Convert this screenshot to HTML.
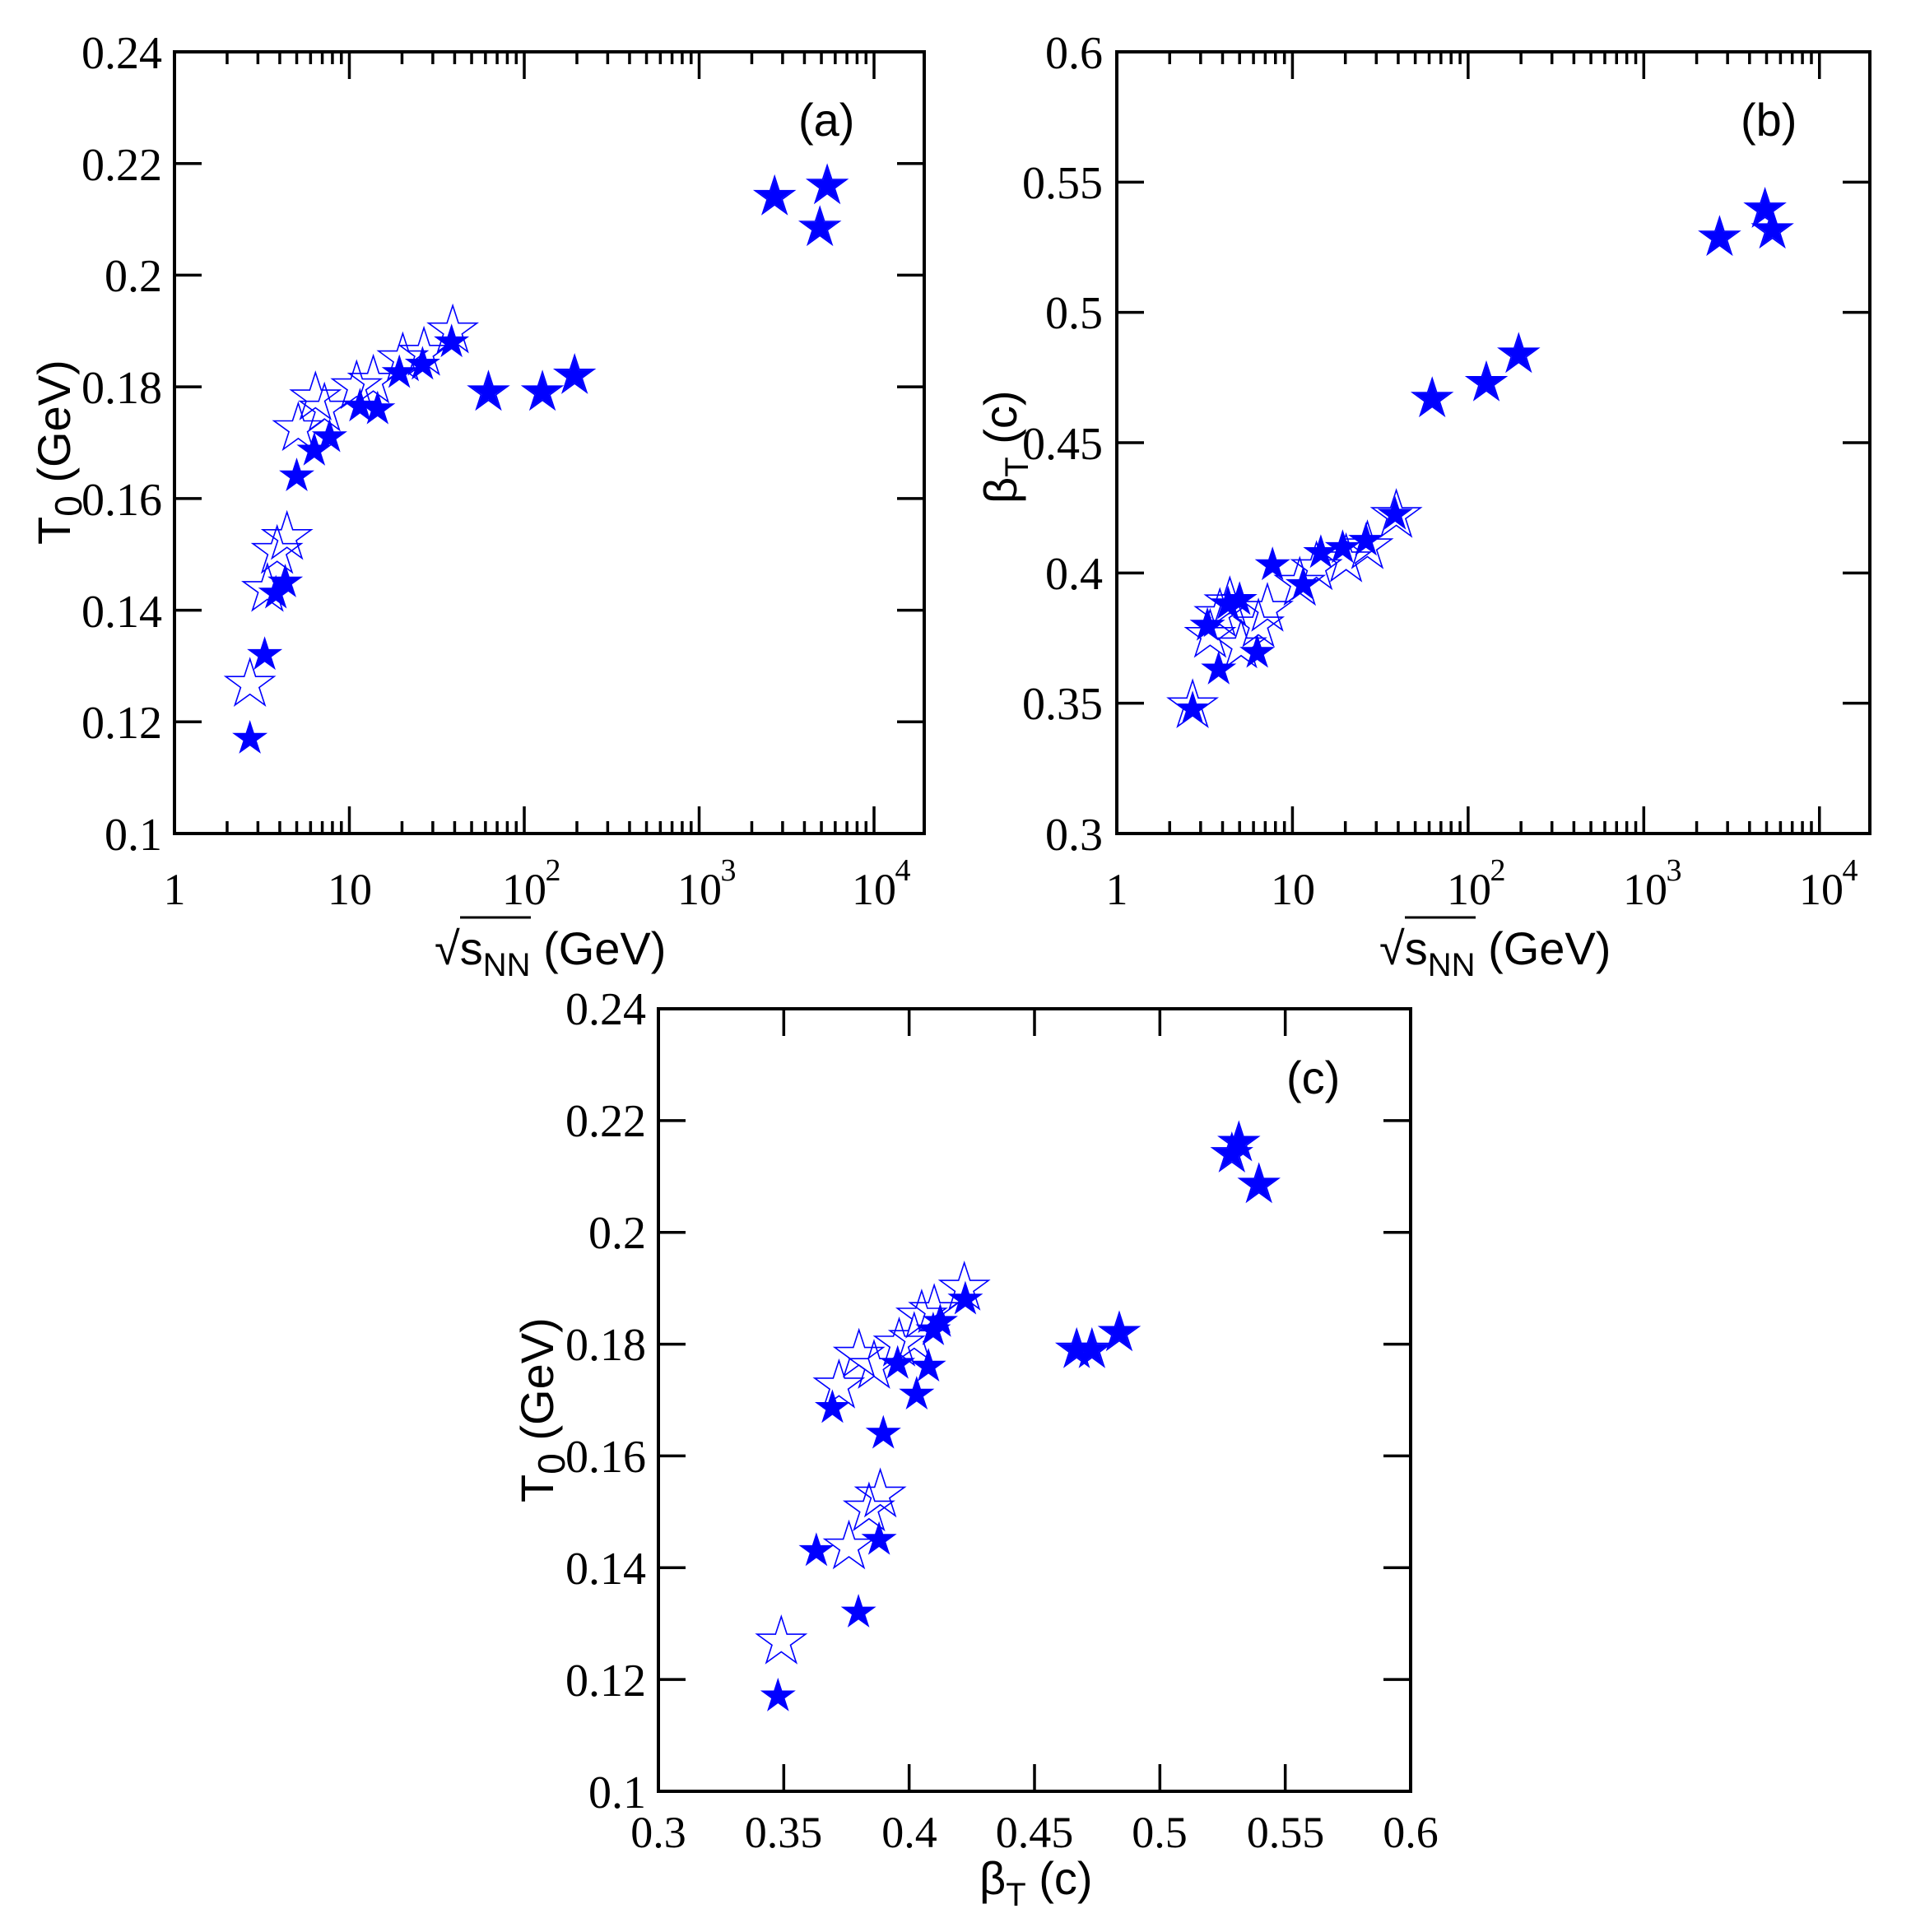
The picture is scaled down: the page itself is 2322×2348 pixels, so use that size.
<!DOCTYPE html>
<html><head><meta charset="utf-8"><style>
body{margin:0;background:#fff}
svg{display:block}
.tl{font-family:"Liberation Serif",serif;font-size:56px;fill:#000}
.tx{font-family:"Liberation Serif",serif;font-size:54px;fill:#000}
.at{font-family:"Liberation Sans",sans-serif;font-size:56px;fill:#000}
</style></head><body>
<svg id="s" xmlns="http://www.w3.org/2000/svg" width="2322" height="2348" viewBox="0 0 2322 2348">
<rect width="2322" height="2348" fill="#fff"/>
<g id="g"></g>
<g class="tl" text-anchor="end">
<text x="197" y="1033">0.1</text><text x="197" y="897">0.12</text><text x="197" y="762">0.14</text><text x="197" y="626">0.16</text><text x="197" y="490">0.18</text><text x="197" y="354">0.2</text><text x="197" y="219">0.22</text><text x="197" y="83">0.24</text>
<text x="1340" y="1033">0.3</text><text x="1340" y="874">0.35</text><text x="1340" y="716">0.4</text><text x="1340" y="558">0.45</text><text x="1340" y="399">0.5</text><text x="1340" y="241">0.55</text><text x="1340" y="83">0.6</text>
<text x="785" y="2197">0.1</text><text x="785" y="2061">0.12</text><text x="785" y="1925">0.14</text><text x="785" y="1789">0.16</text><text x="785" y="1653">0.18</text><text x="785" y="1517">0.2</text><text x="785" y="1381">0.22</text><text x="785" y="1245">0.24</text>
</g>
<g class="tx" text-anchor="middle">
<text x="212" y="1099">1</text><text x="425" y="1099">10</text>
<text x="637" y="1099">10</text><text x="672" y="1070" font-size="38">2</text>
<text x="850" y="1099">10</text><text x="885" y="1070" font-size="38">3</text>
<text x="1062" y="1099">10</text><text x="1097" y="1070" font-size="38">4</text>
<text x="1357" y="1099">1</text><text x="1571" y="1099">10</text>
<text x="1785" y="1099">10</text><text x="1820" y="1070" font-size="38">2</text>
<text x="1999" y="1099">10</text><text x="2034" y="1070" font-size="38">3</text>
<text x="2213" y="1099">10</text><text x="2248" y="1070" font-size="38">4</text>
<text x="800" y="2245">0.3</text><text x="952" y="2245">0.35</text><text x="1105" y="2245">0.4</text><text x="1257" y="2245">0.45</text><text x="1409" y="2245">0.5</text><text x="1562" y="2245">0.55</text><text x="1714" y="2245">0.6</text>
</g>
<g class="at">
<text x="970" y="165">(a)</text>
<text x="2115" y="165">(b)</text>
<text x="1563" y="1329">(c)</text>
<text x="528" y="1172">√<tspan>s</tspan><tspan font-size="40" dy="14">NN</tspan><tspan dy="-14"> (GeV)</tspan></text>
<line x1="559" y1="1115" x2="645" y2="1115" stroke="#000" stroke-width="3"/>
<text x="1676" y="1172">√<tspan>s</tspan><tspan font-size="40" dy="14">NN</tspan><tspan dy="-14"> (GeV)</tspan></text>
<line x1="1707" y1="1115" x2="1793" y2="1115" stroke="#000" stroke-width="3"/>
<text x="1190" y="2302">β<tspan font-size="40" dy="14">T</tspan><tspan dy="-14"> (c)</tspan></text>
<text transform="translate(85,662) rotate(-90)">T<tspan font-size="46" dy="14">0</tspan><tspan dy="-14"> (GeV)</tspan></text>
<text transform="translate(1235,612) rotate(-90)">β<tspan font-size="40" dy="14">T</tspan><tspan dy="-14"> (c)</tspan></text>
<text transform="translate(672,1826) rotate(-90)">T<tspan font-size="46" dy="14">0</tspan><tspan dy="-14"> (GeV)</tspan></text>
</g>
</svg>
<script>
const g=document.getElementById('g');let h='';
function star(cx,cy,R,fill){let p=[];for(let k=0;k<10;k++){const a=(-90+k*36)*Math.PI/180,r=k%2?R*0.382:R;p.push((cx+r*Math.cos(a)).toFixed(1)+','+(cy+r*Math.sin(a)).toFixed(1));}
return fill?`<polygon points="${p}" fill="#0000ff" stroke="#0000ff" stroke-width="1"/>`:`<polygon points="${p}" fill="none" stroke="#0000ff" stroke-width="1.6"/>`;}
function line(a,b,c,d,w){h+=`<line x1="${a}" y1="${b}" x2="${c}" y2="${d}" stroke="#000" stroke-width="${w||4}"/>`;}
function frame(x0,y0,x1,y1){h+=`<rect x="${x0}" y="${y0}" width="${x1-x0}" height="${y1-y0}" fill="none" stroke="#000" stroke-width="4"/>`;}
function yt(x0,x1,y0,y1,n){for(let i=1;i<n;i++){const y=y1-(y1-y0)*i/n;line(x0,y,x0+33,y,3.5);line(x1,y,x1-33,y,3.5);}}
function logx(x0,x1,y0,y1,L){const d=(x1-x0)/L;for(let e=0;e<5;e++)for(let m=1;m<10;m++){const v=e+Math.log10(m);if(v>L||(e==0&&m==1))continue;const x=x0+v*d;const len=m==1?33:15;line(x,y1,x,y1-len,3.5);line(x,y0,x,y0+len,3.5);}}
const L=4.287;
const A={x0:212,x1:1123,y0:63,y1:1013},B={x0:1357,x1:2272,y0:63,y1:1013},C={x0:800,x1:1714,y0:1226,y1:2177};
frame(A.x0,A.y0,A.x1,A.y1);yt(A.x0,A.x1,A.y0,A.y1,7);logx(A.x0,A.x1,A.y0,A.y1,L);
frame(B.x0,B.y0,B.x1,B.y1);yt(B.x0,B.x1,B.y0,B.y1,6);logx(B.x0,B.x1,B.y0,B.y1,L);
frame(C.x0,C.y0,C.x1,C.y1);yt(C.x0,C.x1,C.y0,C.y1,7);
for(let i=1;i<6;i++){const x=C.x0+(C.x1-C.x0)*i/6;line(x,C.y1,x,C.y1-33,3.5);line(x,C.y0,x,C.y0+33,3.5);}
const ax=(P,s)=>P.x0+Math.log10(s)*(P.x1-P.x0)/L;
const ty=(P,t)=>P.y1-(t-0.1)/0.14*(P.y1-P.y0);
const by=(P,b)=>P.y1-(b-0.3)/0.3*(P.y1-P.y0);
const bx=(P,b)=>P.x0+(b-0.3)/0.3*(P.x1-P.x0);
const F=[[2.7,.117,.3477],[3.28,.132,.3798],[3.8,.143,.363],[4.3,.145,.388],[5.0,.164,.3897],[6.3,.1686,.3694],[7.7,.171,.403],[11.5,.1765,.3954],[14.5,.176,.4077],[19.3,.1825,.4096],[26.2,.184,.4124],[38.4,.188,.4224],[62.4,.179,.4668],[127,.179,.4729],[194,.182,.4838],[2700,.214,.5287],[4900,.2085,.5395],[5400,.216,.5315]];
const O=[[2.7,.1267,.349],[3.4,.1437,.376],[3.86,.1505,.384],[4.4,.153,.3885],[5.1,.1725,.372],[6.4,.178,.380],[7.2,.176,.386],[11,.18,.396],[13.7,.181,.402],[20.2,.185,.405],[26.7,.186,.41],[39,.19,.422],[62.4,.179,.4668],[127,.179,.4729],[194,.182,.4838],[2700,.214,.5287],[4900,.2085,.5395],[5400,.216,.5315]];
let m='';
for(const o of O){m+=star(ax(A,o[0]),ty(A,o[1]),o[0]>50?25:31,false);m+=star(ax(B,o[0]),by(B,o[2]),o[0]>50?25:31,false);m+=star(bx(C,o[2]),ty(C,o[1]),o[0]>50?25:31,false);}
for(const f of F){m+=star(ax(A,f[0]),ty(A,f[1]),21,true);m+=star(ax(B,f[0]),by(B,f[2]),21,true);m+=star(bx(C,f[2]),ty(C,f[1]),21,true);}
g.innerHTML=h+m;
</script>
</body></html>
